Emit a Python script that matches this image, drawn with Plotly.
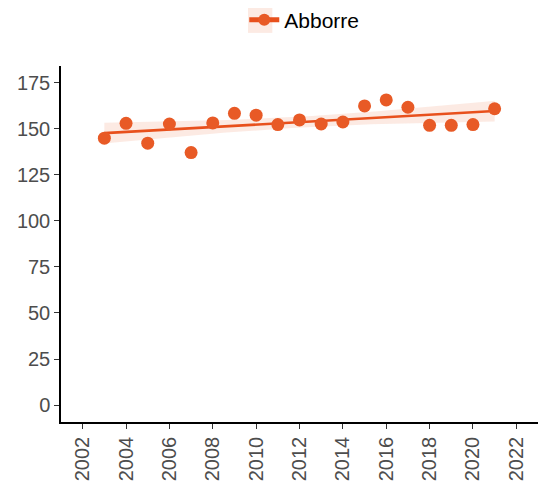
import numpy as np
import plotly.graph_objects as go

# Annual mean values for perch (Abborre)
years = [2003, 2004, 2005, 2006, 2007, 2008, 2009, 2010, 2011, 2012,
         2013, 2014, 2015, 2016, 2017, 2018, 2019, 2020, 2021]
values = [144.9, 153.0, 142.2, 152.6, 137.1, 153.2, 158.4, 157.4, 152.3, 154.8,
          152.6, 153.7, 162.4, 165.7, 161.7, 151.9, 151.9, 152.3, 160.9]
series_name = "Abborre"
y_ticks = [0, 25, 50, 75, 100, 125, 150, 175]
x_ticks = list(range(2002, 2023, 2))

col_pt = "#E85A26"
col_line = "#E8501C"
col_band = "rgba(232,90,38,0.13)"

# Linear fit with 95% confidence band
x = np.array(years, dtype=float)
y = np.array(values, dtype=float)
n = len(x)
slope, intercept = np.polyfit(x, y, 1)
resid = y - (slope * x + intercept)
s = np.sqrt(np.sum(resid ** 2) / (n - 2))
sxx = np.sum((x - x.mean()) ** 2)
t_crit = 2.1098  # t(0.975, df=17)
xs = np.linspace(x.min(), x.max(), 80)
fit = slope * xs + intercept
se = s * np.sqrt(1.0 / n + (xs - x.mean()) ** 2 / sxx)
lo, hi = fit - t_crit * se, fit + t_crit * se

fig = go.Figure()
fig.add_trace(go.Scatter(
    x=np.concatenate([xs, xs[::-1]]), y=np.concatenate([hi, lo[::-1]]),
    fill="toself", fillcolor=col_band, line=dict(width=0),
    hoverinfo="skip", showlegend=False))
fig.add_trace(go.Scatter(
    x=xs, y=fit, mode="lines", line=dict(color=col_line, width=2.6),
    showlegend=False, hoverinfo="skip"))
fig.add_trace(go.Scatter(
    x=years, y=values, mode="markers", name=series_name,
    marker=dict(color=col_pt, size=13, line=dict(width=0)),
    showlegend=False))
# legend entry: point on a line segment, like the fitted series
fig.add_trace(go.Scatter(
    x=[None], y=[None], mode="lines+markers", name=series_name,
    line=dict(color=col_line, width=2.6),
    marker=dict(color=col_pt, size=13), showlegend=True))

fig.update_layout(
    width=542, height=481,
    margin=dict(l=61, r=4, t=66, b=59, autoexpand=False),
    paper_bgcolor="white", plot_bgcolor="white",
    font=dict(family="Liberation Sans, Arial, sans-serif", color="#4D4D4D"),
    showlegend=True,
    legend=dict(orientation="h", x=0.51, xanchor="center", y=1.129, yanchor="middle",
                font=dict(size=21, color="black"),
                itemsizing="constant", itemwidth=30, bgcolor="rgba(0,0,0,0)"),
    shapes=[dict(type="rect", xref="paper", yref="paper",
                 x0=0.392, x1=0.443, y0=1.093, y1=1.163,
                 fillcolor="rgba(232,90,38,0.13)", line=dict(width=0),
                 layer="below")],
)
fig.update_xaxes(
    range=[2001.0, 2023.0], tickvals=x_ticks, ticktext=[str(v) for v in x_ticks],
    tickangle=-90, showgrid=False, zeroline=False, automargin=False,
    showline=True, linecolor="black", linewidth=1.5,
    ticks="outside", ticklen=5, tickwidth=1.3, tickcolor="#333333",
    tickfont=dict(size=20, color="#4D4D4D"))
fig.update_yaxes(
    range=[-9.2, 184.1], tickvals=y_ticks, showgrid=False, zeroline=False,
    automargin=False,
    showline=True, linecolor="black", linewidth=1.5,
    ticks="outside", ticklen=5, tickwidth=1.3, tickcolor="#333333",
    tickfont=dict(size=20, color="#4D4D4D"))

fig.write_html("out.html")
